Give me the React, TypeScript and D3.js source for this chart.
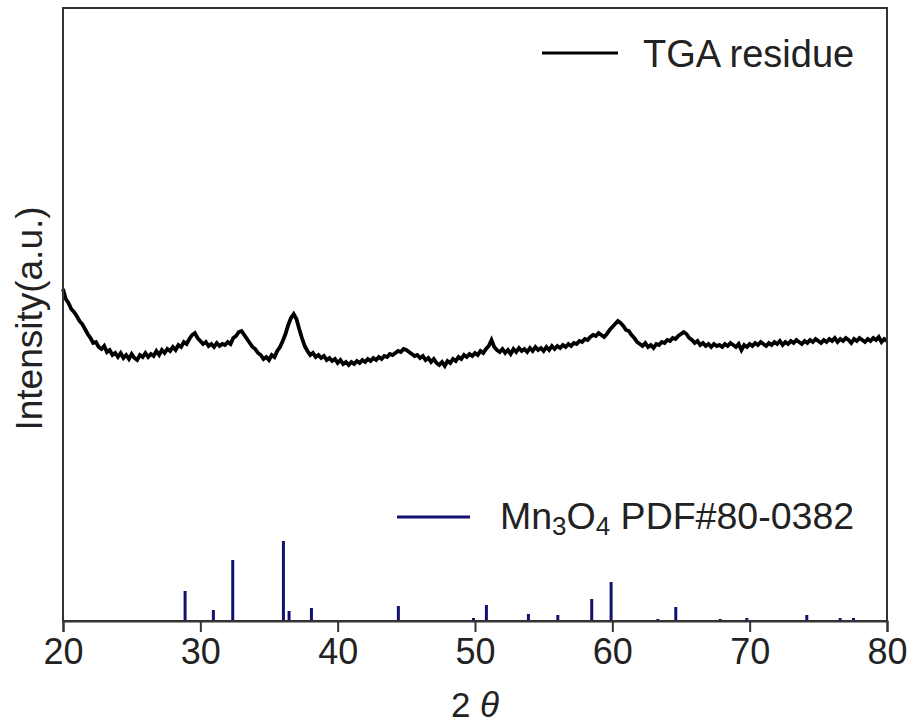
import React, { useEffect, useRef } from "react";
import * as d3 from "d3";

// XRD scan: 2θ from 20 to 80 in steps of 0.2
const scanStart = 20;
const scanStep = 0.2;
const tgaIntensity: number[] = [
  332, 322, 318, 312, 309, 305, 300, 297, 292, 287,
  283, 278, 279, 274, 272, 275, 269, 271, 266, 268,
  264, 268, 263, 266, 262, 267, 263, 261, 266, 264,
  268, 264, 267, 265, 270, 266, 271, 268, 272, 270,
  274, 271, 276, 274, 279, 277, 282, 286, 288, 283,
  280, 277, 279, 275, 277, 274, 278, 275, 277, 276,
  279, 277, 283, 285, 289, 290, 286, 282, 278, 274,
  272, 268, 266, 262, 264, 261, 266, 264, 270, 274,
  280, 287, 296, 303, 307, 302, 292, 283, 275, 270,
  266, 268, 264, 266, 263, 265, 261, 263, 260, 262,
  258, 261, 257, 259, 256, 259, 257, 260, 258, 261,
  259, 262, 260, 263, 261, 264, 262, 265, 264, 267,
  266, 268, 270, 269, 272, 271, 269, 267, 265, 266,
  263, 265, 261, 263, 259, 262, 258, 256, 259, 255,
  260, 258, 262, 260, 264, 262, 266, 264, 267, 265,
  268, 266, 270, 268, 272, 275, 281, 274, 271, 269,
  272, 268, 271, 267, 272, 269, 273, 270, 272, 269,
  273, 270, 274, 271, 273, 270, 274, 271, 275, 272,
  275, 273, 276, 274, 277, 275, 278, 277, 280, 279,
  282, 281, 284, 286, 285, 288, 286, 284, 287, 291,
  294, 297, 300, 298, 295, 291, 290, 286, 283, 279,
  277, 275, 278, 274, 276, 273, 277, 276, 279, 278,
  281, 280, 283, 282, 285, 287, 289, 287, 283, 281,
  278, 280, 276, 278, 275, 277, 274, 277, 275, 276,
  274, 277, 275, 278, 276, 274, 277, 271, 276, 274,
  277, 275, 278, 276, 279, 277, 275, 278, 276, 279,
  277, 280, 276, 279, 277, 280, 278, 281, 279, 277,
  280, 278, 281, 279, 282, 280, 278, 281, 279, 282,
  280, 283, 279, 282, 280, 283, 281, 278, 282, 280,
  283, 281, 279, 282, 280, 283, 281, 284, 279, 282,
  280,
];

// Mn3O4 reference pattern (PDF#80-0382)
const refAngles: number[] = [28.89, 30.95, 32.36, 36.05, 36.46, 38.09, 44.42, 49.89, 50.83, 53.89, 56.03, 58.5, 59.91, 63.31, 64.62, 67.85, 69.79, 74.16, 76.59, 77.56];
const refIntensity: number[] = [30, 11, 61, 80, 10, 13, 15, 3, 16, 7, 6, 22, 39, 2, 14, 2, 3, 6, 3, 3];

const xTicks: number[] = [20, 30, 40, 50, 60, 70, 80];
const xDomain: [number, number] = [20, 80];
const yDomain: [number, number] = [0, 613];

const seriesNames: string[] = ["TGA residue", "PDF#80-0382"];
const seriesColors: string[] = ["#000000", "#12126e"];

const W = 912;
const H = 726;
const M = { left: 63, right: 887, top: 8, bottom: 621 };
const FONT = "'Liberation Sans', Arial, Helvetica, sans-serif";

export default function App() {
  const ref = useRef<SVGSVGElement | null>(null);

  useEffect(() => {
    const svg = d3.select(ref.current);
    svg.selectAll("*").remove();

    const x = d3.scaleLinear().domain(xDomain).range([M.left, M.right]);
    const y = d3.scaleLinear().domain(yDomain).range([M.bottom, M.top]);

    const scan = tgaIntensity.map((v, i) => ({ t: scanStart + i * scanStep, v }));

    // reference sticks
    svg
      .append("g")
      .selectAll("line")
      .data(refAngles.map((a, i) => ({ a, v: refIntensity[i] })))
      .join("line")
      .attr("x1", (d) => x(d.a))
      .attr("x2", (d) => x(d.a))
      .attr("y1", y(0))
      .attr("y2", (d) => y(d.v))
      .attr("stroke", seriesColors[1])
      .attr("stroke-width", 3);

    // TGA curve
    const line = d3
      .line<{ t: number; v: number }>()
      .x((d) => x(d.t))
      .y((d) => y(d.v));
    svg
      .append("path")
      .datum(scan)
      .attr("d", line)
      .attr("fill", "none")
      .attr("stroke", seriesColors[0])
      .attr("stroke-width", 3.8)
      .attr("stroke-linejoin", "miter");

    // frame
    svg
      .append("rect")
      .attr("x", M.left)
      .attr("y", M.top)
      .attr("width", M.right - M.left)
      .attr("height", M.bottom - M.top)
      .attr("fill", "none")
      .attr("stroke", "#333")
      .attr("stroke-width", 2);

    // x axis
    const ax = svg
      .append("g")
      .attr("transform", `translate(0,${M.bottom})`)
      .call(d3.axisBottom(x).tickValues(xTicks).tickSize(11).tickPadding(6).tickFormat(d3.format("d")));
    ax.select(".domain").attr("stroke", "#333").attr("stroke-width", 2);
    ax.selectAll(".tick line").attr("stroke", "#333").attr("stroke-width", 2);
    ax.selectAll(".tick text")
      .attr("font-family", FONT)
      .attr("font-size", 36)
      .attr("fill", "#222");

    // axis labels
    const xl = svg
      .append("text")
      .attr("x", (M.left + M.right) / 2)
      .attr("y", 717)
      .attr("text-anchor", "middle")
      .attr("font-family", FONT)
      .attr("font-size", 35)
      .attr("fill", "#222");
    xl.append("tspan").text("2 ");
    xl.append("tspan").attr("font-style", "italic").text("θ");

    svg
      .append("text")
      .attr("transform", `translate(42,${(M.top + M.bottom) / 2 + 4}) rotate(-90)`)
      .attr("text-anchor", "middle")
      .attr("font-family", FONT)
      .attr("font-size", 37)
      .attr("fill", "#222")
      .text("Intensity(a.u.)");

    // legends
    svg
      .append("line")
      .attr("x1", 542)
      .attr("x2", 618)
      .attr("y1", 53)
      .attr("y2", 53)
      .attr("stroke", seriesColors[0])
      .attr("stroke-width", 3);
    svg
      .append("text")
      .attr("x", 643)
      .attr("y", 67)
      .attr("font-family", FONT)
      .attr("font-size", 38)
      .attr("fill", "#222")
      .text(seriesNames[0]);

    svg
      .append("line")
      .attr("x1", 397)
      .attr("x2", 470)
      .attr("y1", 517)
      .attr("y2", 517)
      .attr("stroke", seriesColors[1])
      .attr("stroke-width", 3);
    const lt = svg
      .append("text")
      .attr("x", 500)
      .attr("y", 529)
      .attr("font-family", FONT)
      .attr("font-size", 37.5)
      .attr("fill", "#222");
    lt.append("tspan").text("Mn");
    lt.append("tspan").attr("font-size", 26).attr("dy", 6).text("3");
    lt.append("tspan").attr("dy", -6).text("O");
    lt.append("tspan").attr("font-size", 26).attr("dy", 6).text("4");
    lt.append("tspan").attr("dy", -6).text(" " + seriesNames[1]);
  }, []);

  return (
    <svg
      ref={ref}
      width={W}
      height={H}
      style={{ position: "absolute", left: 0, top: 0, background: "#fff" }}
    />
  );
}
